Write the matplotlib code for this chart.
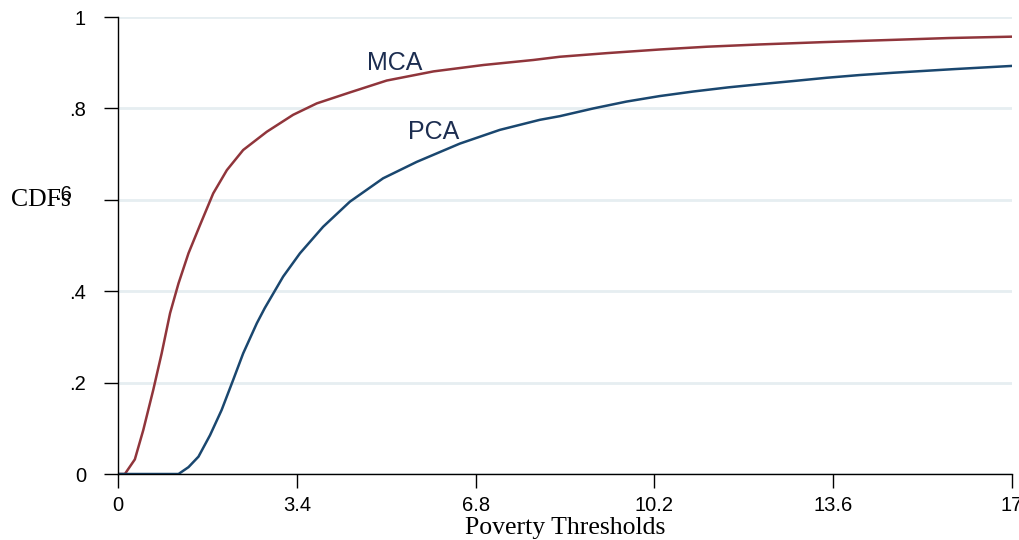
"""CDFs of poverty scores (MCA vs PCA index) across poverty thresholds."""
import matplotlib
matplotlib.use("Agg")
import matplotlib.pyplot as plt
from matplotlib.transforms import ScaledTranslation

# values
mca_x = [0.0, 0.13, 0.32, 0.48, 0.67, 0.83, 0.99, 1.15, 1.34, 1.56, 1.81, 2.07,
         2.38, 2.83, 3.33, 3.78, 4.41, 5.11, 6.0, 6.95, 7.90, 8.40, 9.30,
         10.31, 11.20, 12.21, 13.40, 14.74, 15.80, 17.0]
mca_y = [0.0, 0.0, 0.032, 0.096, 0.184, 0.264, 0.352, 0.417, 0.483, 0.545,
         0.614, 0.665, 0.709, 0.749, 0.786, 0.811, 0.835, 0.861, 0.881, 0.895,
         0.906, 0.913, 0.921, 0.929, 0.935, 0.940, 0.945, 0.950, 0.954, 0.957]

pca_x = [0.0, 1.15, 1.34, 1.53, 1.75, 1.97, 2.19, 2.38, 2.64, 2.79, 3.14, 3.46,
         3.90, 4.41, 5.04, 5.68, 6.50, 7.26, 8.02, 8.40, 9.04, 9.67, 10.30,
         10.94, 11.60, 12.21, 12.85, 13.47, 14.10, 14.74, 15.90, 17.0]
pca_y = [0.0, 0.0, 0.015, 0.038, 0.085, 0.14, 0.206, 0.264, 0.33, 0.363, 0.432,
         0.483, 0.541, 0.596, 0.647, 0.683, 0.723, 0.753, 0.775, 0.783, 0.800,
         0.815, 0.827, 0.837, 0.846, 0.853, 0.860, 0.867, 0.873, 0.878, 0.886,
         0.893]

x_ticks = [0, 3.4, 6.8, 10.2, 13.6, 17]
x_tick_labels = ["0", "3.4", "6.8", "10.2", "13.6", "17"]
y_ticks = [0, 0.2, 0.4, 0.6, 0.8, 1.0]
y_tick_labels = ["0", ".2", ".4", ".6", ".8", "1"]

RED = "#90353b"
BLUE = "#1a476f"
LABEL = "#1c2d50"
GRID = "#e6eef1"
SANS = ["Liberation Sans", "DejaVu Sans"]
SERIF = ["Liberation Serif", "DejaVu Serif"]

fig = plt.figure(figsize=(10.2, 5.4), dpi=100)
ax = fig.add_axes([0.1157, 0.1222, 0.8765, 0.8463])

ax.plot(mca_x, mca_y, color=RED, lw=1.8, solid_joinstyle="round")
ax.plot(pca_x, pca_y, color=BLUE, lw=1.8, solid_joinstyle="round")

ax.text(5.27, 0.90, "MCA", color=LABEL, fontsize=18, family=SANS,
        ha="center", va="center")
ax.text(6.0, 0.748, "PCA", color=LABEL, fontsize=18, family=SANS,
        ha="center", va="center")

ax.set_xlim(0, 17)
ax.set_ylim(0, 1)
ax.set_xticks(x_ticks)
ax.set_xticklabels(x_tick_labels, family=SANS, fontsize=14.5)
ax.set_yticks(y_ticks)
ax.set_yticklabels(y_tick_labels, family=SANS, fontsize=14.5)
ax.tick_params(axis="x", length=10, width=1, pad=6, colors="black")
ax.tick_params(axis="y", length=10, width=1, pad=13, colors="black")

# the ".6" label sits further left and a bit higher, under the axis title
ax.get_yticklabels()[3].set_transform(
    ax.get_yaxis_transform(which="tick1") +
    ScaledTranslation(-0.46, 0.07, fig.dpi_scale_trans))

ax.yaxis.grid(True, color=GRID, lw=2)
ax.set_axisbelow(True)
for side in ("top", "right"):
    ax.spines[side].set_visible(False)
for side in ("left", "bottom"):
    ax.spines[side].set_linewidth(1)

ax.set_xlabel("Poverty Thresholds", family=SERIF, fontsize=18.5, labelpad=1)
ax.set_ylabel("CDFs", family=SERIF, fontsize=18.5, rotation=0,
              ha="left", va="center")
ax.yaxis.set_label_coords(-0.12, 0.6)

fig.savefig("out.png", dpi=100)
